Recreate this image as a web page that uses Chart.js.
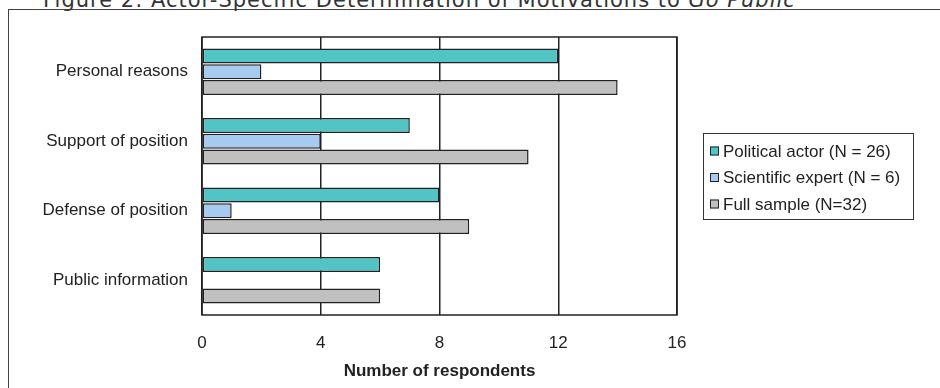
<!DOCTYPE html>
<html lang="en">
<head>
    <meta charset="UTF-8">
    <title>Figure 2</title>
    <script src="https://cdn.jsdelivr.net/npm/chart.js"></script>
    <style>
        body { margin: 0; background: #fff; }
        #wrap { position: relative; width: 940px; height: 388px; overflow: hidden; }
        #frame {
            position: absolute; left: 8px; top: 9px; width: 1000px; height: 500px;
            border-left: 1.5px solid #444; border-top: 1.5px solid #444;
        }
        #title {
            position: absolute; left: 43px; top: -10px; line-height: 21px;
            font-family: "DejaVu Sans"; font-size: 21px; letter-spacing: 1px;
            color: #333; white-space: nowrap;
        }
        canvas { position: absolute; left: 0; top: 0; }
    </style>
</head>
<body>
    <div id="wrap">
        <div id="frame"></div>
        <div id="title">Figure 2: Actor-Specific Determination of Motivations to <i>Go Public</i></div>
        <canvas id="chart" width="940" height="388"></canvas>
    </div>

    <script>
        var categories = ['Personal reasons', 'Support of position', 'Defense of position', 'Public information'];
        var politicalActor = [12, 7, 8, 6];
        var scientificExpert = [2, 4, 1, 0];
        var fullSample = [14, 11, 9, 6];
        var seriesLabels = ['Political actor (N = 26)', 'Scientific expert (N = 6)', 'Full sample (N=32)'];
        var seriesColors = ['#53c4c6', '#a6caf0', '#c0c0c0'];
        var xTicks = [0, 4, 8, 12, 16];

        var font = 'Liberation Sans';

        // plot frame + boxed legend like the excel original
        var boxPlugin = {
            id: 'boxes',
            afterDraw: function (chart) {
                var ctx = chart.ctx;
                var a = chart.chartArea;
                ctx.save();
                ctx.strokeStyle = '#222';
                ctx.lineWidth = 1.5;
                ctx.strokeRect(a.left, a.top, a.right - a.left, a.bottom - a.top);

                // legend
                var lx = 703, ly = 133, lw = 210, lh = 86;
                ctx.lineWidth = 1;
                ctx.strokeStyle = '#333';
                ctx.strokeRect(lx + 0.5, ly + 0.5, lw, lh);
                ctx.font = '17px "' + font + '"';
                ctx.textBaseline = 'middle';
                chart.data.datasets.forEach(function (ds, i) {
                    var cy = ly + 18 + i * 26.5;
                    ctx.fillStyle = ds.backgroundColor;
                    ctx.fillRect(710, cy - 4.5, 9, 9);
                    ctx.strokeStyle = '#222';
                    ctx.strokeRect(710.5, cy - 4, 8, 8);
                    ctx.fillStyle = '#222';
                    ctx.fillText(ds.label, 723, cy + 1);
                });
                ctx.restore();
            }
        };

        var ctx = document.getElementById('chart').getContext('2d');
        var chart = new Chart(ctx, {
            type: 'bar',
            data: {
                labels: categories,
                datasets: [politicalActor, scientificExpert, fullSample].map(function (d, i) {
                    return {
                        label: seriesLabels[i],
                        data: d,
                        backgroundColor: seriesColors[i],
                        borderColor: '#222',
                        borderWidth: 1.5,
                        borderSkipped: false,
                        categoryPercentage: 0.68,
                        barPercentage: 0.95
                    };
                })
            },
            options: {
                indexAxis: 'y',
                responsive: false,
                animation: false,
                layout: { padding: { top: 37, right: 263, left: 0, bottom: 0 } },
                plugins: {
                    legend: { display: false },
                    tooltip: { enabled: false }
                },
                scales: {
                    x: {
                        min: 0,
                        max: 16,
                        afterBuildTicks: function (s) {
                            s.ticks = xTicks.map(function (v) { return { value: v }; });
                        },
                        afterFit: function (s) { s.height = 73; },
                        grid: { color: '#222', lineWidth: 1.5, drawTicks: false },
                        border: { display: false },
                        ticks: { padding: 18, color: '#222', font: { family: font, size: 17 } },
                        title: {
                            display: true,
                            text: 'Number of respondents',
                            color: '#222',
                            font: { family: font, size: 17, weight: 'bold' },
                            padding: { top: 0, bottom: 6 }
                        }
                    },
                    y: {
                        afterFit: function (s) { s.width = 202; },
                        grid: { display: false, drawTicks: false },
                        border: { display: false },
                        ticks: { padding: 14, color: '#222', font: { family: font, size: 17 } }
                    }
                }
            },
            plugins: [boxPlugin]
        });
    </script>
</body>
</html>
